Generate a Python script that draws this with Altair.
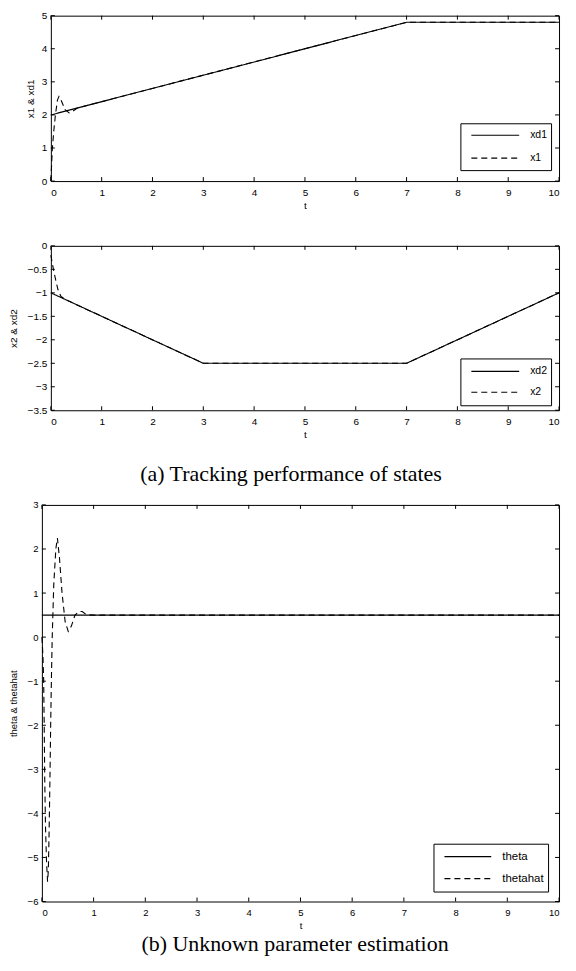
import altair as alt
import pandas as pd

SANS = "Liberation Sans"
SERIF = "Liberation Serif"
NB = "\u00a0"

t_ticks = [0, 1, 2, 3, 4, 5, 6, 7, 8, 9, 10]

# ---- panel 1: x1 & xd1
xd1_t = [0, 7, 10]
xd1_v = [2.0, 4.8, 4.8]
x1_t = [0, 0.03, 0.06, 0.09, 0.13, 0.16, 0.2, 0.28, 0.36, 0.42, 0.52, 7, 10]
x1_v = [0, 1.0, 1.55, 2.0, 2.45, 2.56, 2.45, 2.16, 2.06, 2.1, 2.21, 4.8, 4.8]
y1_ticks = [0, 1, 2, 3, 4, 5]

# ---- panel 2: x2 & xd2
xd2_t = [0, 3, 7, 10]
xd2_v = [-1.0, -2.5, -2.5, -1.0]
x2_t = [0, 0.03, 0.06, 0.1, 0.14, 0.2, 0.3, 3, 7, 10]
x2_v = [-0.2, -0.38, -0.55, -0.75, -0.93, -1.08, -1.15, -2.5, -2.5, -1.0]
y2_ticks = [0, -0.5, -1, -1.5, -2, -2.5, -3, -3.5]

# ---- panel 3: theta & thetahat
theta_t = [0, 10]
theta_v = [0.5, 0.5]
thetahat_t = [0, 0.02, 0.035, 0.045, 0.055, 0.07, 0.09, 0.11, 0.125, 0.14, 0.155,
              0.17, 0.185, 0.2, 0.23, 0.27, 0.3, 0.34, 0.39, 0.45, 0.51, 0.57,
              0.64, 0.72, 0.78, 0.86, 1.0, 10]
thetahat_v = [0, -0.4, -1.0, -2.0, -3.2, -4.3, -5.1, -5.55, -5.3, -4.4, -3.3,
              -2.0, -0.9, 0.0, 1.2, 2.0, 2.25, 1.8, 1.0, 0.35, 0.13, 0.25,
              0.5, 0.58, 0.58, 0.51, 0.5, 0.5]
y3_ticks = [-6, -5, -4, -3, -2, -1, 0, 1, 2, 3]


def panel(names, ts, vs, yticks, ydom, ytitle, width, height, shift, fs,
          title_x, lpx, tpx, leg, caption=None):
    rows = [{"series": n, "t": a, "v": b}
            for n, tt, vv in zip(names, ts, vs) for a, b in zip(tt, vv)]
    df = pd.DataFrame(rows)
    xs = alt.Scale(domain=[0, 10], range=[-shift, width], nice=False, zero=False)
    ys = alt.Scale(domain=ydom, nice=False, zero=False)
    lab = dict(labelFont=SANS, labelFontSize=fs, labelColor="black",
               titleFont=SANS, titleFontSize=fs, titleFontWeight="normal",
               titleColor="black", domainColor="black", domainWidth=1,
               ticks=False, tickSize=0, grid=False)
    frame = dict(labels=False, ticks=False, tickSize=0, title=None, domainColor="black",
                 domainWidth=1, grid=False, minExtent=0, maxExtent=0, labelPadding=0)
    legend = alt.Legend(
        orient="none", legendX=leg["x"], legendY=leg["y"], title=None,
        symbolType="stroke", symbolSize=leg["len"] ** 2, symbolStrokeWidth=1.1,
        symbolStrokeColor="black", symbolOffset=leg["so"], labelOffset=leg["lo"],
        clipHeight=leg["ch"], rowPadding=leg["rp"], padding=leg["pad"],
        labelFont=SANS, labelFontSize=leg["fs"], labelColor="black",
        strokeColor="black", fillColor="white", cornerRadius=0,
        labelExpr="datum.label + '" + NB * leg["sp"] + "'")
    lines = alt.Chart(df).mark_line(color="black", strokeWidth=1.1).encode(
        x=alt.X("t:Q", scale=xs,
                axis=alt.Axis(values=t_ticks, format="d", title="t", orient="bottom",
                              labelPadding=lpx, titlePadding=tpx, **lab)),
        y=alt.Y("v:Q", scale=ys,
                axis=alt.Axis(values=yticks, format="~g", title=ytitle, orient="left",
                              offset=shift, labelPadding=4, titleX=title_x,
                              titleBaseline="middle", titleAlign="center",
                              titleAngle=270, **lab)),
        strokeDash=alt.StrokeDash("series:N",
                                  scale=alt.Scale(domain=names, range=[[1, 0], [6, 4]]),
                                  legend=legend),
    )
    xt = pd.DataFrame({"t": t_ticks})
    yt = pd.DataFrame({"v": yticks})
    rule = dict(color="black", strokeWidth=1)
    xb = alt.Chart(xt).mark_rule(**rule).encode(
        x=alt.X("t:Q", scale=xs, axis=None),
        y=alt.value(height), y2=alt.value(height - 4))
    xtop = alt.Chart(xt).mark_rule(**rule).encode(
        x=alt.X("t:Q", scale=xs, axis=alt.Axis(orient="top", **frame)),
        y=alt.value(0), y2=alt.value(4))
    yl = alt.Chart(yt).mark_rule(**rule).encode(
        y=alt.Y("v:Q", scale=ys, axis=None),
        x=alt.value(-shift), x2=alt.value(-shift + 4))
    yr = alt.Chart(yt).mark_rule(**rule).encode(
        y=alt.Y("v:Q", scale=ys, axis=alt.Axis(orient="right", **frame)),
        x=alt.value(width), x2=alt.value(width - 4))
    ch = alt.layer(lines, xb, xtop, yl, yr).resolve_axis(
        x="independent", y="independent").properties(width=width, height=height)
    if caption is not None:
        ch = ch.properties(title=alt.TitleParams(
            caption["text"], orient="bottom", anchor="middle", font=SERIF,
            fontSize=22, fontWeight="normal", color="black",
            offset=caption["offset"], dx=caption["dx"]))
    return ch


W = 510
p1 = panel(["xd1", "x1"], [xd1_t, x1_t], [xd1_v, x1_v], y1_ticks, [0, 5], "x1 & xd1",
           W, 166, 0, 10, -20, 6, 3.5,
           dict(x=411, y=108, len=48, so=6, lo=10, ch=16, rp=7, pad=4, fs=10.5, sp=4))
p2 = panel(["xd2", "x2"], [xd2_t, x2_t], [xd2_v, x2_v], y2_ticks, [-3.5, 0], "x2 & xd2",
           W, 165, 0, 10, -37, 6, 3.5,
           dict(x=411, y=113, len=48, so=6, lo=10, ch=18, rp=3, pad=4, fs=10.5, sp=4),
           caption=dict(text="(a) Tracking performance of states", offset=24, dx=-14))
p3 = panel(["theta", "thetahat"], [theta_t, thetahat_t], [theta_v, thetahat_v], y3_ticks,
           [-6, 3], "theta & thetahat", W, 398, 9, 9.5, -28, 6, 4,
           dict(x=384, y=340, len=47, so=6, lo=10, ch=18, rp=4, pad=4, fs=11.5, sp=8),
           caption=dict(text="(b) Unknown parameter estimation", offset=4, dx=-10))

inner = alt.vconcat(p1, p2, spacing=30).resolve_scale(
    strokeDash="independent").resolve_legend(strokeDash="independent")
chart = alt.vconcat(inner, p3, spacing=15).resolve_scale(
    strokeDash="independent").resolve_legend(strokeDash="independent").properties(
    padding={"left": 1, "top": 1, "right": 0, "bottom": 0}
).configure_view(stroke=None)

chart.save("out.html", embed_options={"renderer": "svg", "actions": False})
